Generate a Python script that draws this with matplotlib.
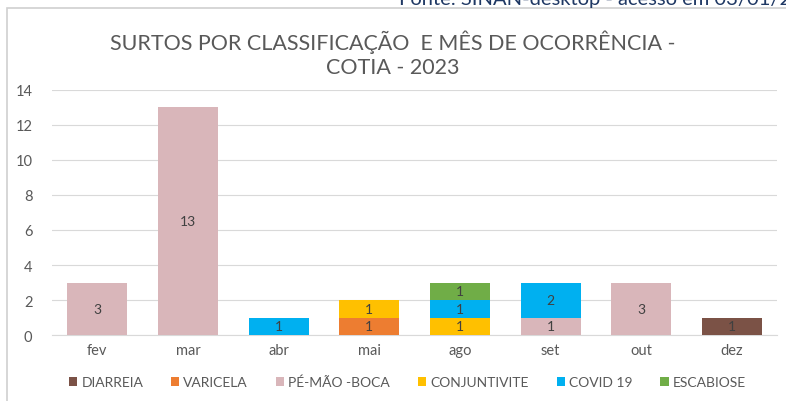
import numpy as np
import matplotlib.pyplot as plt
from matplotlib.patches import Rectangle

# data
months = ["fev", "mar", "abr", "mai", "ago", "set", "out", "dez"]
series = ["DIARREIA", "VARICELA", "PÉ-MÃO -BOCA", "CONJUNTIVITE", "COVID 19", "ESCABIOSE"]
diarreia = [0, 0, 0, 0, 0, 0, 0, 1]
varicela = [0, 0, 0, 1, 0, 0, 0, 0]
pe_mao_boca = [3, 13, 0, 0, 0, 1, 3, 0]
conjuntivite = [0, 0, 0, 1, 1, 0, 0, 0]
covid = [0, 0, 1, 0, 1, 2, 0, 0]
escabiose = [0, 0, 0, 0, 1, 0, 0, 0]
colors = ["#7B5246", "#ED7D31", "#D9B6BA", "#FFC000", "#00B0F0", "#70AD47"]

plt.rcParams['font.family'] = ['Lato', 'DejaVu Sans']

fig = plt.figure(figsize=(7.86, 4.02), dpi=100)
ax = fig.add_axes([0.066, 0.164, 0.923, 0.61])

x = np.arange(len(months))
bottom = np.zeros(len(months))
for name, vals, c in zip(series, [diarreia, varicela, pe_mao_boca, conjuntivite, covid, escabiose], colors):
    vals = np.array(vals, dtype=float)
    ax.bar(x, vals, 0.66, bottom=bottom, color=c, label=name, zorder=3)
    for xi, v, b in zip(x, vals, bottom):
        if v > 0:
            ax.text(xi, b + v / 2, str(int(v)), ha="center", va="center",
                    fontsize=10, color="#404040", zorder=4)
    bottom += vals

ax.set_xlim(-0.5, len(months) - 0.5)
ax.set_ylim(0, 14)
ax.set_yticks(range(0, 15, 2))
ax.set_xticks(x)
ax.set_xticklabels(months)
ax.yaxis.grid(True, color="#D9D9D9", linewidth=0.8, zorder=0)
for s in ["top", "right", "left"]:
    ax.spines[s].set_visible(False)
ax.spines["bottom"].set_color("#D9D9D9")
ax.tick_params(axis="both", length=0, labelsize=10.5, labelcolor="#595959")
ax.tick_params(axis="x", pad=6)
ax.tick_params(axis="y", pad=14)

fig.text(0.5, 0.895, "SURTOS POR CLASSIFICAÇÃO  E MÊS DE OCORRÊNCIA -", ha="center",
         va="center", fontsize=15.5, color="#595959")
fig.text(0.5, 0.832, "COTIA - 2023", ha="center", va="center", fontsize=15.5, color="#595959")

ax.legend(loc="upper center", bbox_to_anchor=(0.49, -0.115), ncol=6, frameon=False,
          fontsize=10, handlelength=0.6, handleheight=0.6, handletextpad=0.3,
          columnspacing=2.0, labelcolor="#595959")

# clipped source note at the top and the chart frame
fig.text(0.508, 1.0, "Fonte: SINAN-desktop - acesso em 03/01/2024", ha="left", va="center",
         fontsize=14.5, color="#1F3864")
fig.add_artist(Rectangle((0.009, -0.1), 1.1, 1.077, transform=fig.transFigure,
                         fill=False, edgecolor="#D0D0D0", linewidth=1.2))

fig.savefig("out.png", dpi=100)
